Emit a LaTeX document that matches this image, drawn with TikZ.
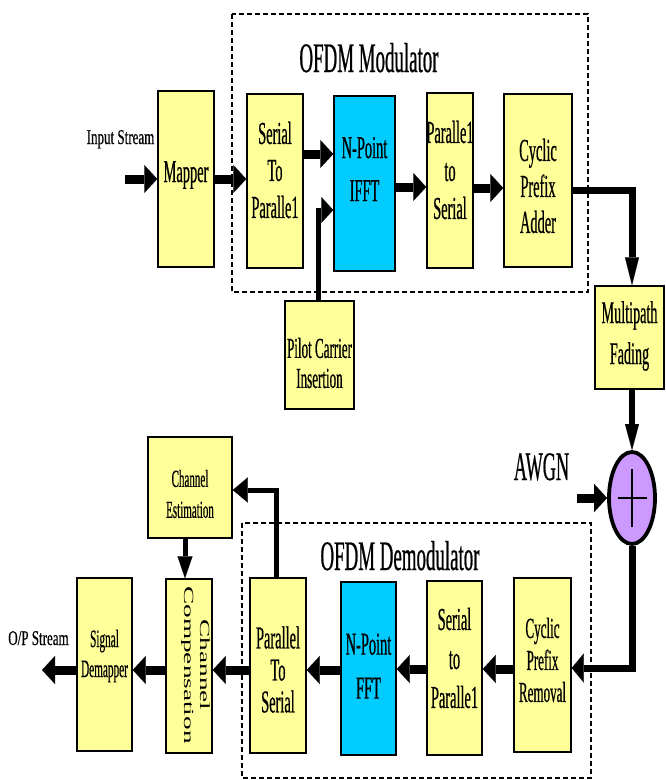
\documentclass[tikz,border=0pt]{standalone}
\usepackage{fontspec}
\setmainfont{Liberation Serif}
\newfontfamily\cf[FakeStretch=0.45,FakeBold=0.5]{Liberation Serif}
\newfontfamily\cfw[FakeStretch=0.62,FakeBold=0.5]{Liberation Serif}
\newfontfamily\cfr[FakeStretch=1.95]{Liberation Serif}
\usetikzlibrary{arrows.meta,calc,shapes.geometric}
\definecolor{boxyellow}{RGB}{255,255,153}
\definecolor{boxcyan}{RGB}{0,204,255}
\definecolor{sumpurple}{RGB}{204,153,255}
\begin{document}
\begin{tikzpicture}[x=1pt,y=-1pt,
  blk/.style={draw=black,line width=1.5pt,fill=boxyellow,inner sep=0pt},
  blu/.style={blk,fill=boxcyan},
  txt/.style={align=center,inner sep=0pt},
  arrbig/.style={line width=9pt,-{Triangle[width=28pt,length=13pt,line width=0.1pt]}},
  arrdn/.style={line width=6pt,-{Triangle[width=14pt,length=26pt,line width=0.1pt]}},
  arrthin/.style={line width=5pt,-{Triangle[width=15pt,length=22pt,line width=0.1pt]}},
  dashbox/.style={line width=1.2pt,dash pattern=on 5pt off 3pt},
  lbl/.style={anchor=base,inner sep=0pt}
]
\useasboundingbox (0,0) rectangle (665,780);

% dashed frames
\draw[dashbox] (232,14) rectangle (588,292);
\draw[dashbox] (242,523) rectangle (591,778);

% helper coordinates
\coordinate (instart) at (125,179);
\coordinate (r154) at (0,154);
\coordinate (r187) at (0,187);
\coordinate (r188) at (0,188);
\coordinate (cpaout) at (632,190);
\coordinate (pil) at (318,210);
\coordinate (awin) at (577,498);
\coordinate (sumout) at (632,668);
\coordinate (brow) at (0,669);
\coordinate (outend) at (42,670);
\coordinate (fb) at (276,490);
\coordinate (ce) at (185,0);

% blocks
\node[blk,minimum width=56pt,minimum height=176pt] (mapper) at (186,179) {};
\node[blk,minimum width=56pt,minimum height=174pt] (stp) at (275,181) {};
\node[blu,minimum width=61pt,minimum height=175pt] (ifft) at (364.5,183.5) {};
\node[blk,minimum width=46pt,minimum height=175pt] (pts) at (450,180.5) {};
\node[blk,minimum width=68pt,minimum height=173pt] (cpa) at (538,180.5) {};
\node[blk,minimum width=69pt,minimum height=108pt] (pilot) at (319.5,355) {};
\node[blk,minimum width=69pt,minimum height=103pt] (mp) at (629.5,337.5) {};
\node[ellipse,draw=black,line width=3.8pt,fill=sumpurple,minimum width=46pt,minimum height=92pt,inner sep=0pt] (sum) at (632,498) {};
\node[blk,minimum width=84pt,minimum height=101pt] (chest) at (190,487.5) {};
\node[blk,minimum width=55pt,minimum height=173pt] (dem) at (104.5,664.5) {};
\node[blk,minimum width=46pt,minimum height=174pt] (comp) at (189,666) {};
\node[blk,minimum width=56pt,minimum height=175pt] (ptsd) at (278,665.5) {};
\node[blu,minimum width=55pt,minimum height=173pt] (fft) at (368.5,668.5) {};
\node[blk,minimum width=55pt,minimum height=174pt] (stpd) at (454.5,668) {};
\node[blk,minimum width=57pt,minimum height=174pt] (cpr) at (542.5,665) {};

% block texts
\node[txt,font=\cf\fontsize{32}{38}\selectfont] (mapperT) at (186,175) {Mapper};
\node[txt,font=\cf\fontsize{32}{37}\selectfont] (stpT) at (275,170) {Serial\\To\\Paralle1};
\node[txt,font=\cf\fontsize{32}{43}\selectfont] (ifftT) at (364.5,169) {N-Point\\IFFT};
\node[txt,font=\cf\fontsize{32}{38}\selectfont] (ptsT) at (450,170) {Paralle1\\to\\Serial};
\node[txt,font=\cf\fontsize{32}{36}\selectfont] (cpaT) at (538,186) {Cyclic\\Prefix\\Adder};
\node[txt,font=\cf\fontsize{29}{30}\selectfont] (pilotT) at (319.5,363) {Pilot Carrier\\Insertion};
\node[txt,font=\cf\fontsize{31.5}{41}\selectfont] (mpT) at (629.5,336) {Multipath\\Fading};
\node[txt,font=\cf\fontsize{24.5}{31}\selectfont] (chestT) at (190,494) {Channel\\Estimation};
\node[txt,font=\cf\fontsize{25}{30}\selectfont] (demT) at (104.5,656) {Signal\\Demapper};
\node[txt,rotate=-90,font=\cfr\fontsize{14}{16}\selectfont] (compT) at (195.5,665) {Channel\\Compensation};
\node[txt,font=\cf\fontsize{32}{32}\selectfont] (ptsdT) at (278,669.5) {Parallel\\To\\Serial};
\node[txt,font=\cf\fontsize{32}{44}\selectfont] (fftT) at (368.5,666) {N-Point\\FFT};
\node[txt,font=\cf\fontsize{32}{39}\selectfont] (stpdT) at (454.5,658) {Serial\\to\\Paralle1};
\node[txt,font=\cf\fontsize{29}{32}\selectfont] (cprT) at (542.5,660) {Cyclic\\Prefix\\Removal};

% plus sign
\draw[line width=2pt] ([xshift=-14.5pt]sum.center) -- ([xshift=14.5pt]sum.center);
\draw[line width=2pt] ([yshift=29pt]sum.center) -- ([yshift=-29pt]sum.center);

% labels
\node[lbl,font=\cfw\fontsize{21}{24}\selectfont] (instr) at (120.5,144) {Input Stream};
\node[lbl,font=\cfw\fontsize{21}{24}\selectfont] (outstr) at (38.5,645) {O/P Stream};
\node[lbl,font=\cf\fontsize{40.5}{40}\selectfont] (awgn) at (541.5,480) {AWGN};
\node[lbl,font=\cf\fontsize{42}{42}\selectfont] (modlbl) at (369,72) {OFDM Modulator};
\node[lbl,font=\cf\fontsize{42}{42}\selectfont] (demlbl) at (400,570) {OFDM Demodulator};

% connectors (transmitter)
\draw[arrbig] (instart) -- (mapper.west);
\draw[arrbig] (mapper.east) -- (mapper.east -| stp.west);
\draw[arrbig] (stp.east |- r154) -- (ifft.west |- r154);
\draw[arrbig] (ifft.east |- r187) -- (pts.west |- r187);
\draw[arrbig] (pts.east |- r188) -- (cpa.west |- r188);
\draw[line width=7pt,-{Triangle[width=14pt,length=28pt,line width=0.1pt]}] (cpa.east |- cpaout) -- (cpaout) -- (cpaout |- mp.north);
\draw[line width=5pt,-{Triangle[width=26pt,length=12pt,line width=0.1pt]}] (pil |- pilot.north) -- (pil) -- (pil -| ifft.west);

% channel
\draw[arrdn] (mp.south -| sum.north) -- (sum.north);
\draw[arrbig] (awin) -- (sum.west);
\draw[line width=7pt,-{Triangle[width=29pt,length=12pt,line width=0.1pt]}] (sum.south) -- (sumout) -- (sumout -| cpr.east);

% connectors (receiver)
\draw[arrbig] (cpr.west |- brow) -- (stpd.east |- brow);
\draw[arrbig] (stpd.west |- brow) -- (fft.east |- brow);
\draw[arrbig] (fft.west |- outend) -- (ptsd.east |- outend);
\draw[arrbig] (ptsd.west |- outend) -- (comp.east |- outend);
\draw[arrbig] (comp.west |- outend) -- (dem.east |- outend);
\draw[arrbig] (dem.west |- outend) -- (outend);
\draw[line width=5pt,-{Triangle[width=25pt,length=15pt,line width=0.1pt]}] (fb |- ptsd.north) -- (fb) -- (fb -| chest.east);
\draw[arrthin] (ce |- chest.south) -- (ce |- comp.north);
\end{tikzpicture}
\end{document}
